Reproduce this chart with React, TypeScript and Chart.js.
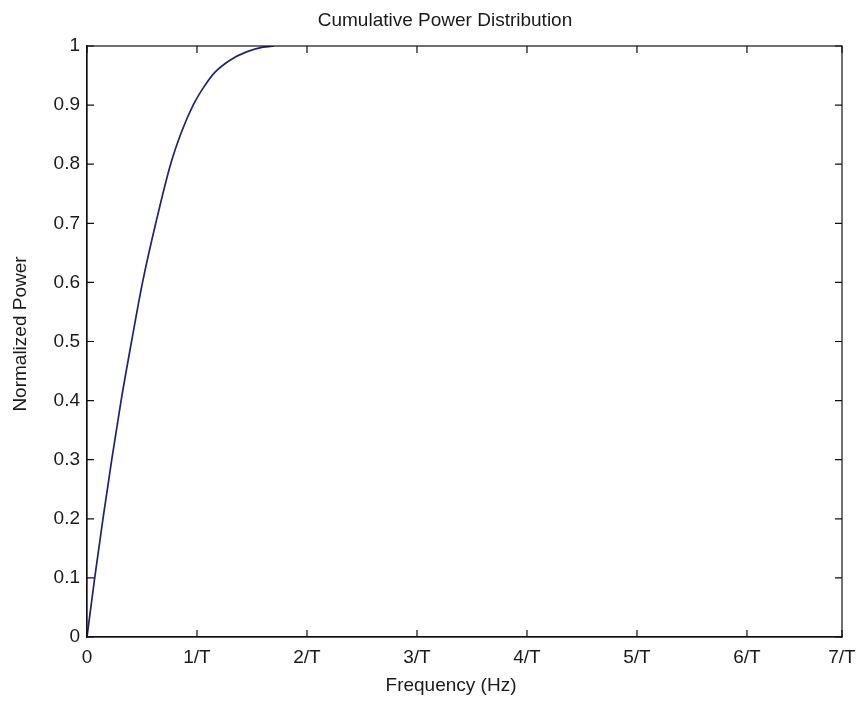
import React, { useEffect, useRef } from "react";
import { Chart, registerables } from "chart.js";

Chart.register(...registerables);

const chartTitle = "Cumulative Power Distribution";
const xAxisTitle = "Frequency (Hz)";
const yAxisTitle = "Normalized Power";

// frequency in units of 1/T
const frequency = [0, 0.07, 0.145, 0.225, 0.31, 0.405, 0.505, 0.625, 0.76, 0.86, 0.965, 1.06, 1.16, 1.3, 1.45, 1.6, 1.7];
const normalizedPower = [0, 0.1, 0.2, 0.3, 0.4, 0.5, 0.6, 0.7, 0.8, 0.855, 0.9, 0.93, 0.955, 0.976, 0.99, 0.998, 1.0];

const xTickValues = [0, 1, 2, 3, 4, 5, 6, 6.864];
const xTickLabels = ["0", "1/T", "2/T", "3/T", "4/T", "5/T", "6/T", "7/T"];
const yTickValues = [0, 0.1, 0.2, 0.3, 0.4, 0.5, 0.6, 0.7, 0.8, 0.9, 1];
const yTickLabels = ["0", "0.1", "0.2", "0.3", "0.4", "0.5", "0.6", "0.7", "0.8", "0.9", "1"];

const FONT = "'Liberation Sans', Arial, sans-serif";
const TEXT = "#1a1a1a";

const framePlugin = {
  id: "matlabFrame",
  afterDraw(chart: any) {
    const { ctx, chartArea: a, scales } = chart;
    const xs = scales.x;
    const ys = scales.y;
    ctx.save();
    ctx.strokeStyle = "#111";
    ctx.lineWidth = 1.2;
    ctx.strokeRect(a.left, a.top, a.right - a.left, a.bottom - a.top);
    const len = 7;
    ctx.beginPath();
    xTickValues.forEach((v) => {
      const px = xs.getPixelForValue(v);
      ctx.moveTo(px, a.bottom);
      ctx.lineTo(px, a.bottom - len);
      ctx.moveTo(px, a.top);
      ctx.lineTo(px, a.top + len);
    });
    yTickValues.forEach((v) => {
      const py = ys.getPixelForValue(v);
      ctx.moveTo(a.left, py);
      ctx.lineTo(a.left + len, py);
      ctx.moveTo(a.right, py);
      ctx.lineTo(a.right - len, py);
    });
    ctx.stroke();
    ctx.fillStyle = TEXT;
    ctx.font = `19px ${FONT}`;
    ctx.textAlign = "center";
    ctx.textBaseline = "alphabetic";
    ctx.fillText(chartTitle, 445, 26);
    ctx.textBaseline = "middle";
    ctx.fillText(xAxisTitle, 451, 686);
    ctx.translate(21, 334);
    ctx.rotate(-Math.PI / 2);
    ctx.fillText(yAxisTitle, 0, 0);
    ctx.restore();
  },
};

export default function App() {
  const canvasRef = useRef<HTMLCanvasElement | null>(null);

  useEffect(() => {
    document.body.style.margin = "0";
    const canvas = canvasRef.current;
    if (!canvas) return;
    const chart = new Chart(canvas, {
      type: "line",
      data: {
        datasets: [
          {
            data: frequency.map((f, i) => ({ x: f, y: normalizedPower[i] })),
            borderColor: "#22226e",
            borderWidth: 1.7,
            pointRadius: 0,
            cubicInterpolationMode: "monotone",
            fill: false,
          },
        ],
      },
      options: {
        animation: false,
        responsive: false,
        maintainAspectRatio: false,
        layout: { padding: { top: 46, right: 18, left: 0, bottom: 0 } },
        plugins: {
          legend: { display: false },
          tooltip: { enabled: false },
          title: { display: false },
        },
        scales: {
          x: {
            type: "linear",
            min: 0,
            max: xTickValues[xTickValues.length - 1],
            afterBuildTicks: (scale: any) => {
              scale.ticks = xTickValues.map((v) => ({ value: v }));
            },
            afterFit: (scale: any) => {
              scale.height = 67;
              scale.paddingLeft = 0;
              scale.paddingRight = 0;
            },
            grid: { display: false, drawTicks: false },
            border: { display: true, color: "#111", width: 1.2 },
            ticks: {
              autoSkip: false,
              maxRotation: 0,
              padding: 9,
              color: TEXT,
              font: { family: FONT, size: 19 },
              callback: (value: any) => {
                const idx = xTickValues.indexOf(Number(value));
                return idx >= 0 ? xTickLabels[idx] : "";
              },
            },
            title: { display: false },
          },
          y: {
            type: "linear",
            min: 0,
            max: 1,
            afterBuildTicks: (scale: any) => {
              scale.ticks = yTickValues.map((v) => ({ value: v }));
            },
            afterFit: (scale: any) => {
              scale.width = 87;
              scale.paddingTop = 0;
              scale.paddingBottom = 0;
            },
            grid: { display: false, drawTicks: false },
            border: { display: true, color: "#111", width: 1.2 },
            ticks: {
              autoSkip: false,
              padding: 7,
              color: TEXT,
              font: { family: FONT, size: 19 },
              callback: (value: any) => {
                const idx = yTickValues.findIndex((v) => Math.abs(v - Number(value)) < 1e-9);
                return idx >= 0 ? yTickLabels[idx] : "";
              },
            },
            title: { display: false },
          },
        },
      },
      plugins: [framePlugin],
    });
    return () => chart.destroy();
  }, []);

  return (
    <div style={{ position: "relative", width: 860, height: 704, background: "#fff" }}>
      <canvas ref={canvasRef} width={860} height={704} style={{ width: 860, height: 704, display: "block" }} />
    </div>
  );
}
